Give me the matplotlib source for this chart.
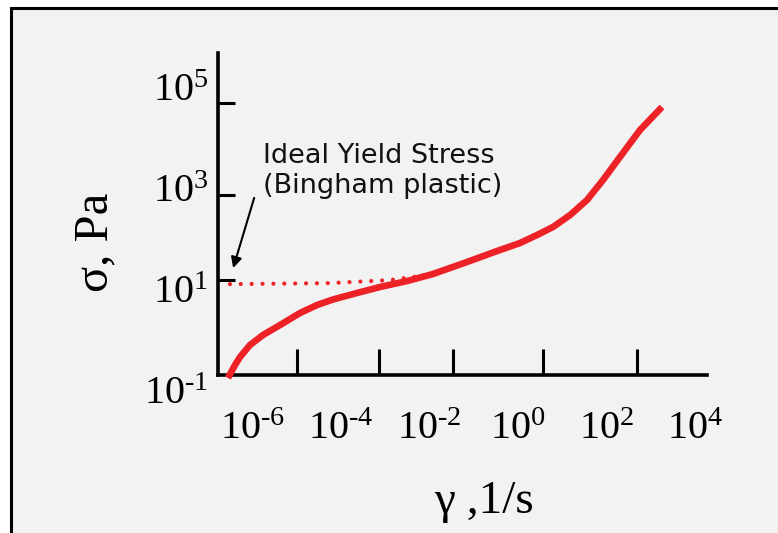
import numpy as np
import matplotlib
matplotlib.use('Agg')
import matplotlib.pyplot as plt
from matplotlib.patches import Rectangle
from matplotlib.transforms import ScaledTranslation

# values (shear rate in 1/s, stress in Pa)
shear_rate = [2.81e-7, 4.05e-7, 5.25e-7, 8.83e-7, 1.74e-6, 4.21e-6, 1.19e-5,
              2.88e-5, 6.62e-5, 2.31e-4, 7.63e-4, 3.11e-3, 1.20e-2, 7.05e-2,
              0.392, 1.11, 2.69, 6.18, 15.0, 36.2, 83.2, 201, 570, 1790]
stress = [0.0873, 0.158, 0.227, 0.393, 0.620, 0.977, 1.69,
          2.43, 3.13, 4.21, 5.53, 7.26, 10.0, 17.3,
          29.9, 41.1, 59.2, 85.3, 147, 292, 726, 2075, 7100, 20300]

# ideal yield stress (Bingham plastic), dotted
bingham_rate = [3.1e-7, 5.7e-5, 1.3e-3, 1.33e-2]
bingham_stress = [6.3, 6.6, 7.6, 10.0]

x_label_vals = [1e-6, 1e-4, 1e-2, 1e0, 1e2, 1e4]
x_label_txt = [r'$10^{\text{-}6}$', r'$10^{\text{-}4}$', r'$10^{\text{-}2}$',
               r'$10^{0}$', r'$10^{2}$', r'$10^{4}$']
y_label_vals = [1e-1, 1e1, 1e3, 1e5]
y_label_txt = [r'$10^{\text{-}1}$', r'$10^{1}$', r'$10^{3}$', r'$10^{5}$']

# hand-drawn tick marks (not aligned with the labels)
x_marks = [1e-5, 7.2e-4, 3.4e-2, 3.6, 490]
y_marks = [7.6, 366, 24300]

plt.rcParams['mathtext.fontset'] = 'custom'
plt.rcParams['mathtext.rm'] = 'Liberation Serif'
plt.rcParams['mathtext.it'] = 'Liberation Serif:italic'

W, H = 778, 533
fig = plt.figure(figsize=(W / 100, H / 100), dpi=100, facecolor='white')

# grey panel with black frame (runs off the right/bottom edge)
fig.patches.append(Rectangle((10.5 / W, -0.1), 1.2, 1.1 - 8.5 / H,
                             transform=fig.transFigure, facecolor='#f2f2f2',
                             edgecolor='black', lw=2.2, zorder=-10))

ax = fig.add_axes([218 / W, 1 - 375 / H, (707 - 218) / W, (375 - 53) / H])
ax.set_facecolor('none')
ax.set_xscale('log')
ax.set_yscale('log')
ax.set_xlim(1.67e-7, 1.86e4)
ax.set_ylim(0.1, 2.38e5)

for s in ['top', 'right']:
    ax.spines[s].set_visible(False)
for s in ['left', 'bottom']:
    ax.spines[s].set_linewidth(2.6)

ax.plot(shear_rate, stress, color='#ed2227', lw=4.8, solid_capstyle='butt',
        solid_joinstyle='round', clip_on=False, zorder=3)
ax.plot(bingham_rate, bingham_stress, color='#ed2227', lw=3.0,
        ls=(0, (0.01, 2.6)), dash_capstyle='round', zorder=4)

ax.set_xticks(x_label_vals)
ax.set_xticklabels(x_label_txt)
ax.set_xticks(x_marks, minor=True)
ax.set_yticks(y_label_vals)
ax.set_yticklabels(y_label_txt)
ax.set_yticks(y_marks, minor=True)
ax.xaxis.set_minor_formatter(plt.NullFormatter())
ax.yaxis.set_minor_formatter(plt.NullFormatter())

ax.tick_params(which='major', length=0, labelsize=29)
ax.tick_params(axis='x', which='major', pad=24)
ax.tick_params(axis='y', which='major', pad=7)
ax.tick_params(axis='x', which='minor', direction='in', length=19, width=2.2)
ax.tick_params(axis='y', which='minor', direction='in', length=12, width=2.2)

# y labels sit a little below their levels in the sketch
shift = ScaledTranslation(0, -0.13, fig.dpi_scale_trans)
for t in ax.yaxis.get_major_ticks():
    t.label1.set_transform(t.label1.get_transform() + shift)

ax.text(0.092, 0.565, 'Ideal Yield Stress\n(Bingham plastic)', transform=ax.transAxes,
        fontsize=19.5, ha='left', va='baseline', color='#111111')
ax.annotate('', xy=(0.031, 0.332), xytext=(0.074, 0.55),
            xycoords='axes fraction', textcoords='axes fraction',
            arrowprops=dict(arrowstyle='-|>', color='black', lw=1.5,
                            mutation_scale=16, shrinkA=0, shrinkB=0))

fig.text(95 / W, 1 - 242 / H, 'σ, Pa', rotation=90, ha='center', va='center',
         fontsize=35, family='Liberation Serif')
fig.text(484 / W, 20 / H, 'γ ,1/s', ha='center', va='baseline',
         fontsize=34, family='Liberation Serif')

fig.savefig('out.png', dpi=100, facecolor='white')
